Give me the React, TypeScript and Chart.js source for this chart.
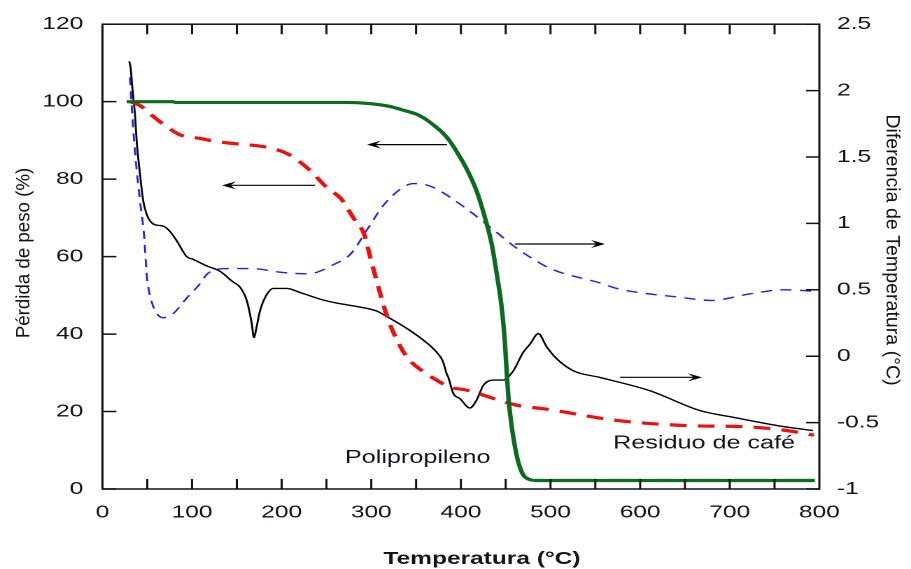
import { useEffect, useRef } from "react";
import { Chart, registerables } from "chart.js";

Chart.register(...registerables);

// The figure is drawn on a narrower canvas and widened horizontally on the page.
const PAGE_W = 911;
const PAGE_H = 569;
const CANVAS_W = 651;
const STRETCH = PAGE_W / CANVAS_W;

const FONT = "'Liberation Sans', Arial, Helvetica, sans-serif";

// Polipropileno – TG (pérdida de peso, %)
const ppTgTemp = [27, 78, 82, 270, 298.5, 320, 335.7, 350, 361.8, 372, 380.4, 388, 395.3, 406.5, 417.6, 426.9, 434.4, 440, 445.5, 449.2, 451.3, 453.5, 456.5, 459.5, 462.5, 466, 470, 476, 485, 795];
const ppTgMass = [100, 100, 99.8, 99.8, 99.5, 98.8, 97.8, 96.8, 95.3, 93.5, 91.8, 89.7, 87.1, 82.6, 76.9, 70, 63.2, 55.5, 46.9, 37.5, 29.5, 22.5, 16.5, 12, 8.4, 5.5, 3.5, 2.5, 2.2, 2.2];

// Residuo de café – TG (pérdida de peso, %)
const cafeTgTemp = [31, 42, 55, 72, 87, 109, 130, 146, 184, 206, 229, 251, 266, 280, 292, 299, 307, 318, 329, 340, 355, 370, 388, 407, 436, 463, 496, 574, 649, 723, 760, 794];
const cafeTgMass = [100, 99, 96.5, 93.5, 91.4, 90.5, 89.6, 89.2, 88.2, 86.6, 82.8, 77.7, 75, 70, 65.8, 59.7, 52.9, 44.3, 38.3, 34, 30.8, 28.5, 26.3, 25.5, 23.4, 21.6, 20.6, 17.7, 16.4, 16, 15.2, 13.9];

// Residuo de café – diferencia de temperatura (°C)
const cafeDtaTemp = [30.7, 32.9, 36.3, 41.9, 46.3, 49.7, 51.9, 56.4, 62, 67.5, 78.7, 94.3, 108.8, 117, 139, 165, 202, 229, 258, 277, 296, 314, 333, 347, 366, 400, 433, 463, 500, 556, 574, 649, 679, 723, 760, 794];
const cafeDtaDiff = [2.10, 1.86, 1.54, 1.17, 0.92, 0.59, 0.49, 0.38, 0.31, 0.29, 0.32, 0.44, 0.545, 0.62, 0.66, 0.66, 0.63, 0.62, 0.69, 0.77, 0.96, 1.14, 1.26, 1.30, 1.28, 1.14, 0.97, 0.81, 0.66, 0.55, 0.51, 0.44, 0.42, 0.47, 0.50, 0.49];

// Polipropileno – diferencia de temperatura (°C)
const ppDtaTemp = [29.9, 31.5, 33, 34.4, 36.3, 38.2, 41.9, 45.5, 49.3, 53, 58.6, 67.5, 75.3, 82.8, 94, 101, 116.3, 131, 145.6, 153.5, 161, 166.5, 169, 172, 175.8, 181.4, 190.6, 205.6, 220.4, 242.7, 261.4, 287.4, 306, 317, 339.5, 362, 373, 380, 384, 386, 391.5, 399, 410, 417.6, 425, 436, 447, 458.5, 469.6, 477, 486.4, 495.8, 507, 525.5, 555, 611, 667, 704, 760, 793];
const ppDtaDiff = [2.22, 2.17, 2.05, 1.95, 1.82, 1.62, 1.37, 1.17, 1.07, 1.02, 0.99, 0.98, 0.94, 0.87, 0.75, 0.73, 0.68, 0.64, 0.56, 0.52, 0.42, 0.25, 0.14, 0.22, 0.34, 0.44, 0.51, 0.51, 0.48, 0.43, 0.40, 0.37, 0.34, 0.30, 0.21, 0.10, 0.03, -0.04, -0.13, -0.16, -0.28, -0.32, -0.39, -0.33, -0.22, -0.18, -0.18, -0.11, 0.03, 0.09, 0.17, 0.07, -0.02, -0.11, -0.16, -0.26, -0.41, -0.46, -0.53, -0.56];

// Axis ticks
const xTickLabels = [0, 100, 200, 300, 400, 500, 600, 700, 800];
const xTickMarks = [50, 100, 150, 200, 250, 300, 350, 400, 450, 500, 550, 600, 650, 700, 750];
const massTicks = [0, 20, 40, 60, 80, 100, 120];
const diffTicks = [-1, -0.5, 0, 0.5, 1, 1.5, 2, 2.5];

// Arrows pointing each curve to its axis
const arrowFrom = [384.5, 237.2, 460.4, 577.6];
const arrowTo = [295.2, 133.4, 560.8, 669.1];
const arrowLevel = [88.9, 78.4, 0.845, -0.159];
const arrowAxis = ["y", "y", "y1", "y1"];

// Curve labels
const labelText = ["Polipropileno", "Residuo de café"];
const labelTemp = [270.6, 569.8];
const labelMass = [6.76, 10.5];

const pts = (xs: number[], ys: number[]) => xs.map((x, i) => ({ x, y: ys[i] }));

const TEXT_COLOR = "#14121c";

const decorPlugin = {
  id: "decor",
  afterDatasetsDraw(chart: any) {
    const { ctx, chartArea: a, scales } = chart;
    const sx = scales.x;
    const sy = scales.y;
    const sy1 = scales.y1;
    ctx.save();

    // frame and inward tick marks
    ctx.strokeStyle = "#111";
    ctx.lineWidth = 1.5;
    ctx.strokeRect(a.left, a.top, a.right - a.left, a.bottom - a.top);
    ctx.beginPath();
    for (const t of xTickMarks) {
      const px = sx.getPixelForValue(t);
      ctx.moveTo(px, a.bottom);
      ctx.lineTo(px, a.bottom - 10);
      ctx.moveTo(px, a.top);
      ctx.lineTo(px, a.top + 10);
    }
    for (const v of massTicks) {
      const py = sy.getPixelForValue(v);
      ctx.moveTo(a.left, py);
      ctx.lineTo(a.left + 10, py);
    }
    for (const v of diffTicks) {
      const py = sy1.getPixelForValue(v);
      ctx.moveTo(a.right, py);
      ctx.lineTo(a.right - 9.5, py);
    }
    ctx.stroke();

    // arrows
    ctx.lineWidth = 1.2;
    ctx.strokeStyle = "#000";
    ctx.fillStyle = "#000";
    arrowFrom.forEach((from, i) => {
      const scale = arrowAxis[i] === "y" ? sy : sy1;
      const y = scale.getPixelForValue(arrowLevel[i]);
      const x0 = sx.getPixelForValue(from);
      const x1 = sx.getPixelForValue(arrowTo[i]);
      const d = x1 > x0 ? 1 : -1;
      const L = 10;
      const hw = 4;
      ctx.beginPath();
      ctx.moveTo(x0, y);
      ctx.lineTo(x1 - d * L * 0.5, y);
      ctx.stroke();
      ctx.beginPath();
      ctx.moveTo(x1, y);
      ctx.lineTo(x1 - d * L, y - hw);
      ctx.lineTo(x1 - d * L * 0.6, y);
      ctx.lineTo(x1 - d * L, y + hw);
      ctx.closePath();
      ctx.fill();
    });

    // curve labels
    ctx.fillStyle = TEXT_COLOR;
    ctx.font = `18px ${FONT}`;
    ctx.textAlign = "left";
    ctx.textBaseline = "alphabetic";
    labelText.forEach((t, i) => {
      ctx.fillText(t, sx.getPixelForValue(labelTemp[i]), sy.getPixelForValue(labelMass[i]));
    });

    // axis titles
    ctx.font = `bold 17.5px ${FONT}`;
    ctx.textAlign = "center";
    ctx.fillText("Temperatura (°C)", 482 / STRETCH, 564);

    ctx.textBaseline = "middle";
    ctx.save();
    ctx.translate(24 / STRETCH, 253);
    ctx.scale(1 / STRETCH, 1);
    ctx.rotate(-Math.PI / 2);
    ctx.font = `18.7px ${FONT}`;
    ctx.fillText("Pérdida de peso (%)", 0, 0);
    ctx.restore();

    ctx.save();
    ctx.translate(891.7 / STRETCH, 250);
    ctx.scale(1 / STRETCH, 1);
    ctx.rotate(Math.PI / 2);
    ctx.font = `19.6px ${FONT}`;
    ctx.fillText("Diferencia de Temperatura (°C)", 0, 0);
    ctx.restore();

    ctx.restore();
  },
};

export default function App() {
  const ref = useRef<HTMLCanvasElement>(null);

  useEffect(() => {
    const canvas = ref.current;
    if (!canvas) return;
    Chart.defaults.font.family = FONT;
    const tickFont = { size: 17.5, family: FONT };
    const chart = new Chart(canvas, {
      type: "line",
      data: {
        datasets: [
          {
            label: "Polipropileno TG",
            data: pts(ppTgTemp, ppTgMass),
            borderColor: "#0c6a22",
            borderWidth: 3.2,
            pointRadius: 0,
            yAxisID: "y",
            order: 0,
            cubicInterpolationMode: "monotone",
          },
          {
            label: "Residuo de café TG",
            data: pts(cafeTgTemp, cafeTgMass),
            borderColor: "#ec1010",
            borderWidth: 3.2,
            borderDash: [12, 8],
            pointRadius: 0,
            yAxisID: "y",
            order: 1,
            cubicInterpolationMode: "monotone",
          },
          {
            label: "Polipropileno DTA",
            data: pts(ppDtaTemp, ppDtaDiff),
            borderColor: "#000000",
            borderWidth: 1.4,
            pointRadius: 0,
            yAxisID: "y1",
            order: 2,
            cubicInterpolationMode: "monotone",
          },
          {
            label: "Residuo de café DTA",
            data: pts(cafeDtaTemp, cafeDtaDiff),
            borderColor: "#1f1ff0",
            borderWidth: 1.4,
            borderDash: [8, 6],
            pointRadius: 0,
            yAxisID: "y1",
            order: 3,
            cubicInterpolationMode: "monotone",
          },
        ],
      },
      options: {
        animation: false,
        responsive: false,
        devicePixelRatio: 2,
        layout: { padding: { top: 22, left: 0, right: 0, bottom: 0 } },
        plugins: { legend: { display: false }, tooltip: { enabled: false } },
        scales: {
          x: {
            type: "linear",
            min: 0,
            max: 800,
            grid: { display: false, drawTicks: false },
            border: { display: false },
            afterBuildTicks: (s: any) => {
              s.ticks = xTickLabels.map((value) => ({ value }));
            },
            afterFit: (s: any) => {
              s.height = 80;
            },
            ticks: { font: tickFont, color: TEXT_COLOR, padding: 13, maxRotation: 0, autoSkip: false, callback: (v: any) => String(v) },
          },
          y: {
            type: "linear",
            position: "left",
            min: 0,
            max: 120,
            grid: { display: false, drawTicks: false },
            border: { display: false },
            afterBuildTicks: (s: any) => {
              s.ticks = massTicks.map((value) => ({ value }));
            },
            afterFit: (s: any) => {
              s.width = 73.2;
            },
            ticks: { font: tickFont, color: TEXT_COLOR, padding: 13.7, autoSkip: false, callback: (v: any) => String(v) },
          },
          y1: {
            type: "linear",
            position: "right",
            min: -1,
            max: 2.5,
            grid: { display: false, drawTicks: false },
            border: { display: false },
            afterBuildTicks: (s: any) => {
              s.ticks = diffTicks.map((value) => ({ value }));
            },
            afterFit: (s: any) => {
              s.width = 65.5;
            },
            ticks: { font: tickFont, color: TEXT_COLOR, padding: 12.6, autoSkip: false, callback: (v: any) => String(v) },
          },
        },
      } as any,
      plugins: [decorPlugin],
    });
    return () => chart.destroy();
  }, []);

  return (
    <div style={{ position: "fixed", left: 0, top: 0, width: PAGE_W, height: PAGE_H, overflow: "hidden", background: "#fff" }}>
      <div style={{ width: CANVAS_W, height: PAGE_H, transform: `scaleX(${STRETCH})`, transformOrigin: "0 0" }}>
        <canvas ref={ref} width={CANVAS_W} height={PAGE_H} style={{ display: "block", width: CANVAS_W, height: PAGE_H }} />
      </div>
    </div>
  );
}
